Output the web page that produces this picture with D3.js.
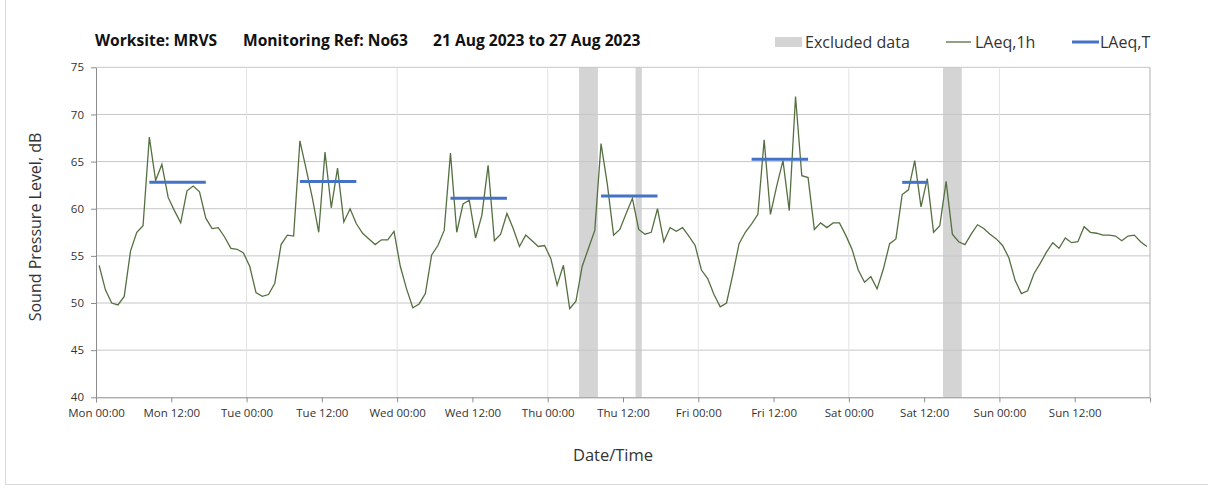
<!DOCTYPE html>
<html>
<head>
<meta charset="utf-8">
<script src="https://cdn.jsdelivr.net/npm/d3@7"></script>
<style>
  body { margin: 0; background: #fff; }
  text { font-family: "Open Sans", sans-serif; fill: #333; }
</style>
</head>
<body>
<div id="chart"></div>
<script>
// hourly LAeq,1h values, one array per day (00:00 .. 23:00)
var mon = [54.0, 51.4, 50.0, 49.8, 50.7, 55.5, 57.5, 58.2, 67.6, 63.0, 64.7, 61.2, 59.8, 58.5, 61.9, 62.4, 61.8, 59.0, 57.9, 58.0, 57.0, 55.8, 55.7, 55.3];
var tue = [53.9, 51.1, 50.7, 50.9, 52.1, 56.2, 57.2, 57.1, 67.2, 64.2, 61.1, 57.5, 66.0, 60.1, 64.3, 58.6, 60.0, 58.4, 57.4, 56.8, 56.2, 56.7, 56.7, 57.6];
var wed = [53.9, 51.5, 49.5, 49.9, 51.0, 55.1, 56.1, 57.7, 65.9, 57.5, 60.5, 60.9, 56.9, 59.3, 64.6, 56.6, 57.3, 59.5, 57.9, 56.0, 57.2, 56.6, 56.0, 56.1];
var thu = [54.7, 51.9, 54.0, 49.4, 50.2, 53.9, 55.8, 57.7, 66.9, 62.6, 57.2, 57.8, 59.5, 61.1, 57.8, 57.3, 57.5, 60.0, 56.5, 58.0, 57.6, 58.0, 57.1, 56.1];
var fri = [53.5, 52.6, 50.9, 49.6, 50.0, 53.0, 56.3, 57.5, 58.4, 59.4, 67.3, 59.4, 62.4, 65.1, 59.8, 71.9, 63.5, 63.3, 57.8, 58.5, 58.0, 58.5, 58.5, 57.2];
var sat = [55.7, 53.5, 52.2, 52.8, 51.5, 53.6, 56.3, 56.8, 61.5, 62.0, 65.1, 60.2, 63.2, 57.5, 58.2, 62.9, 57.3, 56.5, 56.2, 57.3, 58.3, 57.9, 57.3, 56.8];
var sun = [56.1, 54.8, 52.4, 51.0, 51.3, 53.1, 54.2, 55.4, 56.4, 55.8, 56.9, 56.4, 56.5, 58.1, 57.5, 57.4, 57.2, 57.2, 57.1, 56.6, 57.1, 57.2, 56.5, 56.0];

// LAeq,T periods: [day index, first hour, last hour, value]
var laeqT = [[0, 8, 17, 62.8], [1, 8, 17, 62.9], [2, 8, 17, 61.1],
             [3, 8, 17, 61.35], [4, 8, 17, 65.25], [5, 8, 12, 62.8]];

// excluded data: [day index, start hour, end hour]
var excluded = [[3, 5, 8], [3, 14, 15], [5, 15, 18]];

var yTicks = [40, 45, 50, 55, 60, 65, 70, 75];

var start = new Date(2023, 7, 21, 0, 0);
var end = new Date(2023, 7, 28, 0, 0);
function at(day, hour) { return d3.timeMinute.offset(start, Math.round((day * 24 + hour) * 60)); }

var days = [mon, tue, wed, thu, fri, sat, sun];
var hourly = [];
days.forEach(function(vals, d) {
  vals.forEach(function(v, h) { hourly.push({t: at(d, h + 0.5), v: v}); });
});

var svg = d3.select("#chart").append("svg")
  .attr("width", 1208)
  .attr("height", 488);

svg.append("rect")
  .attr("x", 5.5).attr("y", -2)
  .attr("width", 1220).attr("height", 486.5)
  .attr("fill", "none").attr("stroke", "#d9d9d9");

var x = d3.scaleTime().domain([start, end]).range([96, 1150]);
var y = d3.scaleLinear().domain([40, 75]).range([397.3, 67.3]);

// excluded bands
svg.selectAll("rect.excl")
  .data(excluded)
  .enter().append("rect")
  .attr("class", "excl")
  .attr("x", function(d) { return x(at(d[0], d[1])); })
  .attr("width", function(d) { return x(at(d[0], d[2])) - x(at(d[0], d[1])); })
  .attr("y", y(75))
  .attr("height", y(40) - y(75))
  .attr("fill", "#d4d4d4");

// gridlines
svg.selectAll("line.hgrid")
  .data(yTicks.slice(1))
  .enter().append("line")
  .attr("x1", 96).attr("x2", 1150)
  .attr("y1", function(d) { return y(d); })
  .attr("y2", function(d) { return y(d); })
  .attr("stroke", "#c6c6c6");

var midnights = d3.timeDay.range(d3.timeDay.offset(start, 1), d3.timeDay.offset(end, 1));
svg.selectAll("line.vgrid")
  .data(midnights)
  .enter().append("line")
  .attr("x1", function(d) { return x(d); })
  .attr("x2", function(d) { return x(d); })
  .attr("y1", y(75)).attr("y2", y(40))
  .attr("stroke", function(d) { return +d === +end ? "#b0b0b0" : "#e2e2e2"; });

// axes
var tickVals = d3.timeHour.every(12).range(start, end);
var fmt = d3.timeFormat("%a %H:%M");
var xAxis = svg.append("g")
  .attr("transform", "translate(0," + y(40) + ")")
  .call(d3.axisBottom(x).tickValues(tickVals).tickFormat(fmt).tickSize(5).tickSizeOuter(5));
xAxis.selectAll("text").attr("dy", "1.05em").style("font-size", "11.5px");

var yAxis = svg.append("g")
  .attr("transform", "translate(96,0)")
  .call(d3.axisLeft(y).tickValues(yTicks).tickSize(5).tickSizeOuter(0));
yAxis.selectAll("text").attr("x", -12).style("font-size", "11.5px");

svg.selectAll(".domain").attr("stroke", "#8c8c8c");
svg.selectAll(".tick line").attr("stroke", "#8c8c8c");

// LAeq,1h line
var line = d3.line()
  .x(function(d) { return x(d.t); })
  .y(function(d) { return y(d.v); });

svg.append("path")
  .datum(hourly)
  .attr("d", line)
  .attr("fill", "none")
  .attr("stroke", "#557040")
  .attr("stroke-width", 1.3);

// LAeq,T segments
svg.selectAll("line.laeqT")
  .data(laeqT)
  .enter().append("line")
  .attr("x1", function(d) { return x(at(d[0], d[1] + 0.5)); })
  .attr("x2", function(d) { return x(at(d[0], d[2] + 0.5)); })
  .attr("y1", function(d) { return y(d[3]); })
  .attr("y2", function(d) { return y(d[3]); })
  .attr("stroke", "#4472c4")
  .attr("stroke-width", 3);

// title
var title = [["Worksite: MRVS", 95], ["Monitoring Ref: No63", 243], ["21 Aug 2023 to 27 Aug 2023", 433]];
svg.selectAll("text.title")
  .data(title)
  .enter().append("text")
  .attr("x", function(d) { return d[1]; })
  .attr("y", 46)
  .style("font-size", "15.6px")
  .style("font-weight", "bold")
  .style("fill", "#111")
  .text(function(d) { return d[0]; });

// legend
svg.append("rect").attr("x", 775).attr("y", 37).attr("width", 27).attr("height", 10).attr("fill", "#d4d4d4");
svg.append("text").attr("x", 805).attr("y", 48).style("font-size", "16px").text("Excluded data");
svg.append("line").attr("x1", 946).attr("x2", 971).attr("y1", 42).attr("y2", 42)
  .attr("stroke", "#557040").attr("stroke-width", 1.3);
svg.append("text").attr("x", 975).attr("y", 48).style("font-size", "16px").text("LAeq,1h");
svg.append("line").attr("x1", 1072).attr("x2", 1099).attr("y1", 42).attr("y2", 42)
  .attr("stroke", "#4472c4").attr("stroke-width", 3);
svg.append("text").attr("x", 1100).attr("y", 48).style("font-size", "16px").text("LAeq,T");

// axis titles
svg.append("text")
  .attr("transform", "translate(41,227) rotate(-90)")
  .attr("text-anchor", "middle")
  .style("font-size", "16px")
  .text("Sound Pressure Level, dB");

svg.append("text")
  .attr("x", 613).attr("y", 461)
  .attr("text-anchor", "middle")
  .style("font-size", "16.5px")
  .text("Date/Time");
</script>
</body>
</html>
